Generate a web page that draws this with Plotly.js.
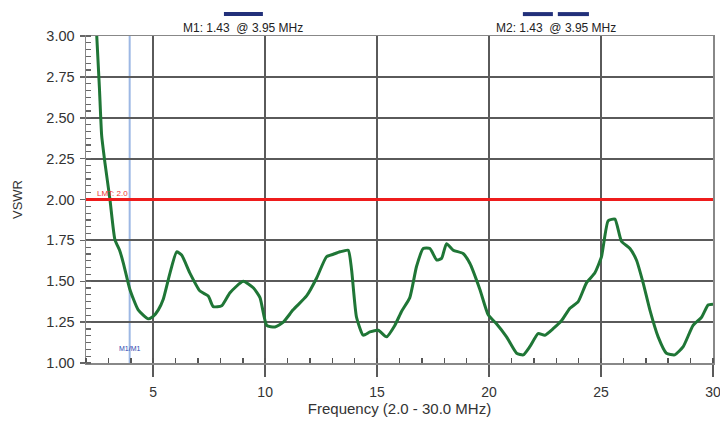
<!DOCTYPE html>
<html>
<head>
<meta charset="utf-8">
<script src="https://cdn.plot.ly/plotly-3.0.1.min.js"></script>
<style>html,body{margin:0;padding:0;background:#fff;}#chart{width:720px;height:421px;}</style>
</head>
<body>
<div id="chart"></div>
<script>
// Frequency (MHz) and VSWR
const freq = [2.48, 2.6, 2.7, 2.85, 3.07, 3.29, 3.5, 3.67, 3.96, 4.33, 4.78, 5.0, 5.23, 5.45, 5.75, 6.05, 6.27, 6.64, 7.09, 7.46,
  7.68, 8.06, 8.43, 9.02, 9.47, 9.77, 10.07, 10.44, 10.81, 11.25, 11.85, 12.30, 12.74, 13.04, 13.34, 13.71, 13.86, 14.08, 14.38, 14.68,
  15.05, 15.42, 15.79, 16.09, 16.46, 16.76, 17.06, 17.36, 17.66, 17.88, 18.10, 18.40, 18.84, 19.14, 19.59, 19.96, 20.33, 20.78, 21.23, 21.53,
  21.82, 22.19, 22.49, 22.86, 23.24, 23.61, 23.98, 24.35, 24.72, 25.02, 25.32, 25.62, 25.91, 26.29, 26.58, 26.88, 27.18, 27.55, 27.92, 28.29,
  28.67, 29.11, 29.49, 29.78, 30.0];
const vswr = [3.0, 2.68, 2.39, 2.22, 2.0, 1.755, 1.69, 1.61, 1.45, 1.325, 1.27, 1.285, 1.325, 1.39, 1.55, 1.68, 1.66, 1.55, 1.44, 1.41,
  1.345, 1.35, 1.43, 1.50, 1.46, 1.40, 1.23, 1.22, 1.25, 1.325, 1.41, 1.52, 1.65, 1.665, 1.68, 1.69, 1.57, 1.28, 1.17, 1.19,
  1.20, 1.16, 1.23, 1.315, 1.40, 1.59, 1.70, 1.70, 1.63, 1.64, 1.73, 1.69, 1.67, 1.61, 1.45, 1.295, 1.24, 1.16, 1.06, 1.05,
  1.10, 1.18, 1.17, 1.21, 1.26, 1.335, 1.375, 1.49, 1.55, 1.65, 1.87, 1.88, 1.745, 1.70, 1.63, 1.49, 1.325, 1.16, 1.06, 1.05,
  1.10, 1.23, 1.28, 1.355, 1.36];

const xTicks = [5, 10, 15, 20, 25, 30];
const yTicks = [1.00, 1.25, 1.50, 1.75, 2.00, 2.25, 2.50, 2.75, 3.00];
const limitVswr = 2.0;
const markerFreq = 3.95;
const markerLabels = ["M1: 1.43  @ 3.95 MHz", "M2: 1.43  @ 3.95 MHz"];
const markerLabelX = [9.0, 23.0];

const trace = {
  x: freq, y: vswr, type: 'scatter', mode: 'lines',
  line: {color: '#1f7636', width: 3, shape: 'spline', smoothing: 0.5},
  hoverinfo: 'skip'
};

const gridCol = '#5a5a5a';
const layout = {
  width: 720, height: 421,
  margin: {l: 86, r: 7, t: 36, b: 58},
  paper_bgcolor: '#ffffff', plot_bgcolor: '#ffffff',
  showlegend: false,
  font: {family: 'Liberation Sans, Arial, sans-serif', color: '#333'},
  xaxis: {
    range: [2, 30], tickvals: xTicks, ticktext: xTicks.map(String),
    showgrid: true, gridcolor: gridCol, gridwidth: 2,
    ticks: 'outside', ticklen: 12, tickwidth: 2, tickcolor: gridCol,
    ticklabelstandoff: 4, ticklabeloverflow: 'allow',
    showline: true, linecolor: '#888', linewidth: 1.5, mirror: true,
    zeroline: false,
    tickfont: {size: 14, color: '#333'},
    minor: {dtick: 1, tick0: 2, ticks: 'inside', ticklen: 5, tickcolor: '#555', tickwidth: 1.5, showgrid: false},
    title: {text: 'Frequency (2.0 - 30.0 MHz)', font: {size: 15, color: '#333'}, standoff: 2}
  },
  yaxis: {
    range: [1, 3], tickvals: yTicks, ticktext: yTicks.map(v => v.toFixed(2)),
    showgrid: true, gridcolor: gridCol, gridwidth: 2,
    ticks: 'outside', ticklen: 5, tickwidth: 1.5, tickcolor: '#666',
    ticklabelstandoff: 2,
    showline: true, linecolor: '#888', linewidth: 1.5, mirror: true,
    zeroline: false,
    tickfont: {size: 14.5, color: '#333'},
    minor: {dtick: 0.25/6, tick0: 1, ticks: 'inside', ticklen: 5, tickcolor: '#666', tickwidth: 1.2, showgrid: false},
    title: {text: 'VSWR', font: {size: 13, color: '#333'}, standoff: 21}
  },
  shapes: [
    {type: 'line', xref: 'x', yref: 'paper', x0: markerFreq, x1: markerFreq, y0: 0, y1: 1,
     line: {color: '#9db8e4', width: 2}, layer: 'below'},
    {type: 'line', xref: 'paper', yref: 'y', x0: 0, x1: 1, y0: limitVswr, y1: limitVswr,
     line: {color: '#ee1c1c', width: 3}, layer: 'above'},
    {type: 'line', xref: 'x', yref: 'paper', x0: 8.16, x1: 9.90, y0: 1.067, y1: 1.067,
     line: {color: '#22307a', width: 4}},
    {type: 'line', xref: 'x', yref: 'paper', x0: 21.51, x1: 22.85, y0: 1.067, y1: 1.067,
     line: {color: '#22307a', width: 4}},
    {type: 'line', xref: 'x', yref: 'paper', x0: 23.07, x1: 24.46, y0: 1.067, y1: 1.067,
     line: {color: '#22307a', width: 4}}
  ],
  annotations: [
    {xref: 'x', yref: 'paper', x: markerLabelX[0], y: 0.998, yanchor: 'bottom', text: markerLabels[0],
     showarrow: false, font: {size: 12, color: '#222'}},
    {xref: 'x', yref: 'paper', x: markerLabelX[1], y: 0.998, yanchor: 'bottom', text: markerLabels[1],
     showarrow: false, font: {size: 12, color: '#222'}},
    {xref: 'x', yref: 'y', x: 2.4, y: limitVswr, xanchor: 'left', yanchor: 'bottom', text: 'LMT: 2.0',
     showarrow: false, font: {size: 8, color: '#ee3333'}},
    {xref: 'x', yref: 'y', x: markerFreq, y: 1.09, text: 'M1/M1',
     showarrow: false, font: {size: 7, color: '#2a44b0'}}
  ]
};

Plotly.newPlot('chart', [trace], layout, {displayModeBar: false, staticPlot: true});
</script>
</body>
</html>
